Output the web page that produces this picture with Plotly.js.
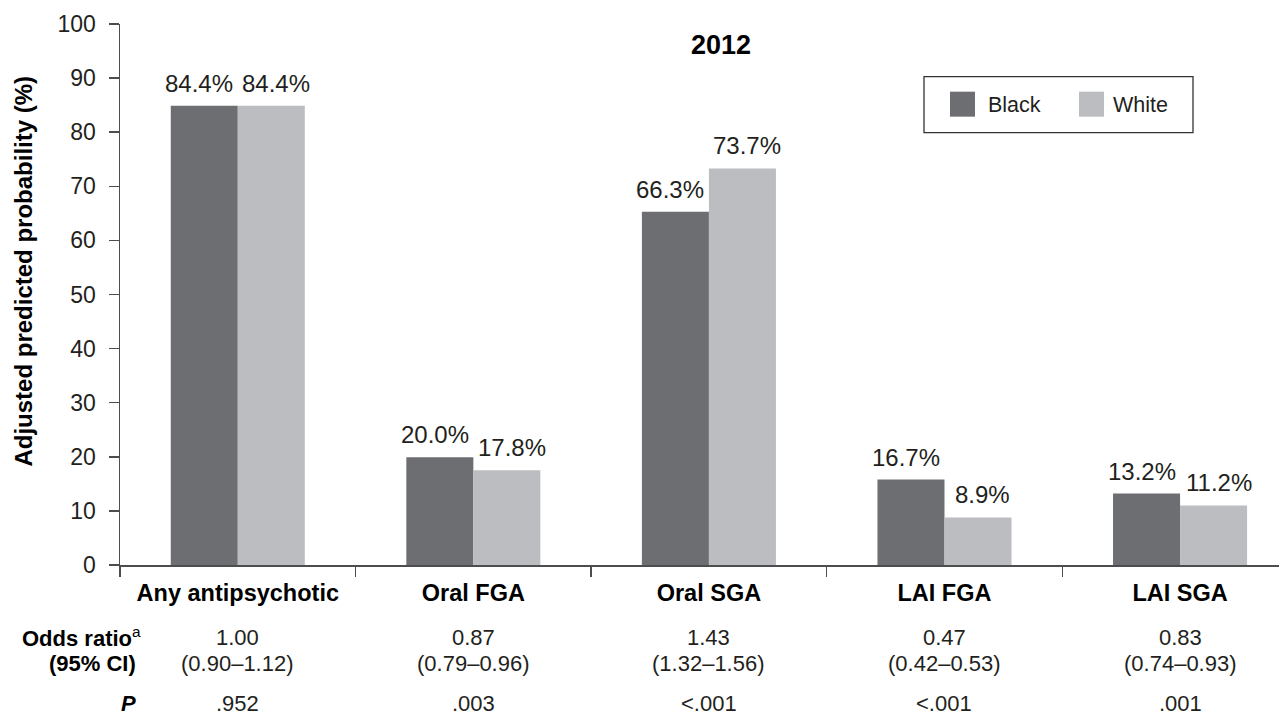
<!DOCTYPE html>
<html><head><meta charset="utf-8">
<script src="https://cdn.plot.ly/plotly-3.0.1.min.js"></script>
<style>html,body{margin:0;padding:0;background:#fff}#chart{width:1279px;height:724px}</style>
</head><body><div id="chart"></div>
<script>
// ---- data ----
const categories = ["Any antipsychotic", "Oral FGA", "Oral SGA", "LAI FGA", "LAI SGA"];
const seriesNames = ["Black", "White"];
const blackValues = [84.9, 19.9, 65.3, 15.8, 13.2];
const whiteValues = [84.9, 17.5, 73.3, 8.8, 11.0];
const blackLabels = ["84.4%", "20.0%", "66.3%", "16.7%", "13.2%"];
const whiteLabels = ["84.4%", "17.8%", "73.7%", "8.9%", "11.2%"];
const oddsRatios = ["1.00", "0.87", "1.43", "0.47", "0.83"];
const confIntervals = ["(0.90–1.12)", "(0.79–0.96)", "(1.32–1.56)", "(0.42–0.53)", "(0.74–0.93)"];
const pValues = [".952", ".003", "<.001", "<.001", ".001"];
const yTickVals = [0, 10, 20, 30, 40, 50, 60, 70, 80, 90, 100];
const chartTitle = "2012";
const yAxisTitle = "Adjusted predicted probability (%)";
const tableRowLabels = ["<b>Odds ratio</b><sup>a</sup>", "<b>(95% CI)</b>", "<b><i>P</i></b>"];

// ---- style ----
const FONT = "Liberation Sans, Arial, Helvetica, sans-serif";
const TXT = "#231f20";
const AXIS = "#4d4d4f";
const colors = ["#6d6e71", "#bcbdc0"];
const W = 1279, H = 724;
const ML = 120, MR = 0, MT = 24.3, MB = 158.5;
const plotW = W - ML - MR, plotH = H - MT - MB;
const px = v => (v - ML) / plotW;          // pixel x -> paper x
const py = v => (H - MB - v) / plotH;      // pixel y -> paper y

const traces = [
  {type: "bar", name: seriesNames[0], x: categories, y: blackValues,
   marker: {color: colors[0], line: {width: 0}}, hoverinfo: "skip"},
  {type: "bar", name: seriesNames[1], x: categories, y: whiteValues,
   marker: {color: colors[1], line: {width: 0}}, hoverinfo: "skip"}
];

const annotations = [];
const halfBar = 33.5;
const rowY = [638, 664, 704];
categories.forEach((c, i) => {
  annotations.push({x: c, y: blackValues[i], xref: "x", yref: "y", text: blackLabels[i],
    showarrow: false, xanchor: "center", yanchor: "bottom", xshift: -halfBar - 5, yshift: 7,
    font: {family: FONT, size: 24, color: TXT}});
  annotations.push({x: c, y: whiteValues[i], xref: "x", yref: "y", text: whiteLabels[i],
    showarrow: false, xanchor: "center", yanchor: "bottom", xshift: halfBar + 5, yshift: 7,
    font: {family: FONT, size: 24, color: TXT}});
  const rows = [oddsRatios[i], confIntervals[i], pValues[i]];
  rows.forEach((t, r) => annotations.push({x: c, y: py(rowY[r]), xref: "x", yref: "paper",
    text: t, showarrow: false, xanchor: "center", yanchor: "middle", borderpad: 0,
    font: {family: FONT, size: 22, color: TXT}}));
});
const labelRight = [142, 137, 137];
tableRowLabels.forEach((t, r) => annotations.push({x: px(labelRight[r]), y: py(rowY[r]),
  xref: "paper", yref: "paper", text: t, showarrow: false, xanchor: "right", yanchor: "middle",
  borderpad: 0, font: {family: FONT, size: 22, color: "#000"}}));

// title
annotations.push({x: px(721), y: py(45), xref: "paper", yref: "paper", text: "<b>" + chartTitle + "</b>",
  showarrow: false, xanchor: "center", yanchor: "middle", font: {family: FONT, size: 27, color: "#000"}});
// y axis title
annotations.push({x: px(24), y: py(272), xref: "paper", yref: "paper", text: "<b>" + yAxisTitle + "</b>",
  showarrow: false, textangle: -90, xanchor: "center", yanchor: "middle",
  font: {family: FONT, size: 24, color: "#000"}});
// legend text
annotations.push({x: px(986), y: py(105), xref: "paper", yref: "paper", text: seriesNames[0],
  showarrow: false, xanchor: "left", yanchor: "middle", font: {family: FONT, size: 21.5, color: TXT}});
annotations.push({x: px(1111), y: py(105), xref: "paper", yref: "paper", text: seriesNames[1],
  showarrow: false, xanchor: "left", yanchor: "middle", font: {family: FONT, size: 21.5, color: TXT}});

const shapes = [
  {type: "rect", xref: "paper", yref: "paper", x0: px(924), x1: px(1193), y0: py(133), y1: py(77),
   line: {color: "#333", width: 1.3}, fillcolor: "rgba(0,0,0,0)"},
  {type: "rect", xref: "paper", yref: "paper", x0: px(950), x1: px(975), y0: py(117), y1: py(92),
   line: {width: 0}, fillcolor: colors[0]},
  {type: "rect", xref: "paper", yref: "paper", x0: px(1079), x1: px(1104), y0: py(117), y1: py(92),
   line: {width: 0}, fillcolor: colors[1]}
];

const layout = {
  width: W, height: H,
  margin: {l: ML, r: MR, t: MT, b: MB, pad: 0},
  paper_bgcolor: "#fff", plot_bgcolor: "#fff",
  showlegend: false,
  barmode: "group", bargap: 0.431, bargroupgap: 0,
  font: {family: FONT, color: TXT},
  xaxis: {type: "category", range: [-0.5, 4.42], showline: true, linecolor: AXIS, linewidth: 1.5,
    ticks: "outside", tickson: "boundaries", ticklen: 10, tickwidth: 1.5, tickcolor: AXIS,
    tickfont: {family: FONT, size: 23.5, weight: "bold", color: "#000"}, ticklabelstandoff: 6,
    showgrid: false, zeroline: false, fixedrange: true},
  yaxis: {range: [0, 100], tickvals: yTickVals, ticktext: yTickVals.map(String),
    showline: true, linecolor: AXIS, linewidth: 1.5, ticks: "outside", ticklen: 10, tickwidth: 1.5,
    tickcolor: AXIS, tickfont: {family: FONT, size: 23, color: TXT}, ticklabelstandoff: 8,
    showgrid: false, zeroline: false, fixedrange: true},
  annotations: annotations,
  shapes: shapes
};

Plotly.newPlot("chart", traces, layout, {displayModeBar: false, staticPlot: true});
</script></body></html>
